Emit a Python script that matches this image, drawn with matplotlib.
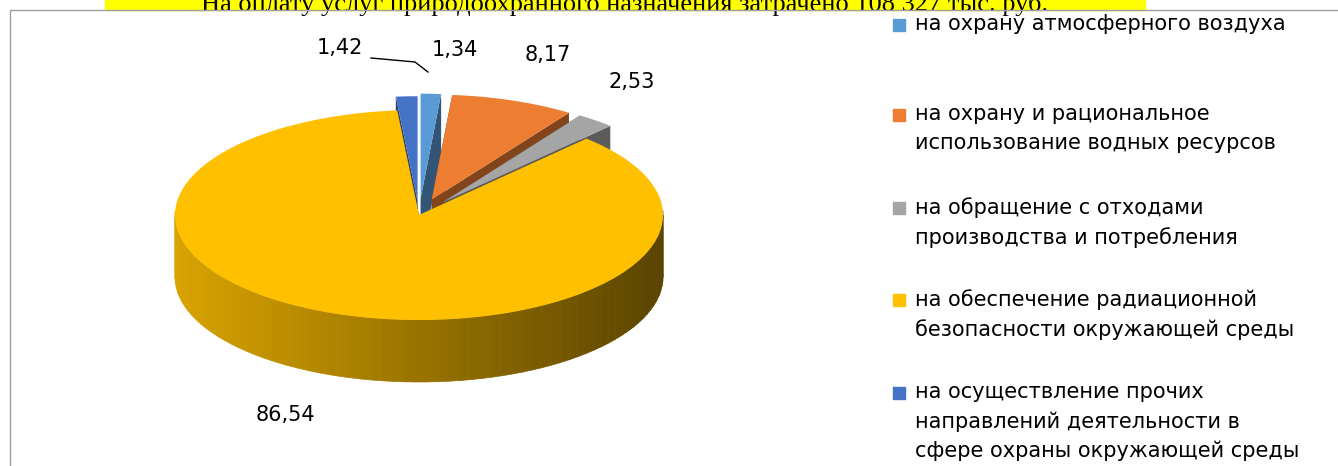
import numpy as np
import matplotlib.pyplot as plt
from matplotlib.patches import Polygon, Rectangle
from matplotlib.colors import to_rgb

values = [1.34, 8.17, 2.53, 86.54, 1.42]
labels = ["1,34", "8,17", "2,53", "86,54", "1,42"]
colors = ["#5B9BD5", "#ED7D31", "#A5A5A5", "#FFC000", "#4472C4"]
explode = [38, 38, 38, 0, 32]
legend_text = [
    "на охрану атмосферного воздуха",
    "на охрану и рациональное\nиспользование водных ресурсов",
    "на обращение с отходами\nпроизводства и потребления",
    "на обеспечение радиационной\nбезопасности окружающей среды",
    "на осуществление прочих\nнаправлений деятельности в\nсфере охраны окружающей среды",
]

plt.rcParams['font.family'] = ['DejaVu Sans']
fig = plt.figure(figsize=(13.38, 4.66), dpi=100)
ax = fig.add_axes([0, 0, 1, 1])
ax.set_xlim(0, 1338)
ax.set_ylim(466, 0)
ax.axis('off')

# title strip cut off at the top
ax.add_patch(Rectangle((105, -10), 1040, 20, color='#FFFF00', zorder=1))
ax.text(625, 4, "На оплату услуг природоохранного назначения затрачено 108 327 тыс. руб.",
        fontsize=19, family='Liberation Serif', ha='center', va='center', zorder=2)
ax.add_patch(Rectangle((10, 10), 1340, 470, fill=False, ec='#A0A0A0', lw=1, zorder=2))

cx, cy, rx, ry, depth = 419, 215, 244, 105, 62


def pt(t, ox, oy, dz=0):
    return cx + ox + rx * np.cos(t), cy + oy - ry * np.sin(t) + dz


def darker(c, f):
    r = np.array(to_rgb(c))
    return tuple(r * f)


tops, sides = [], []
start = 90.0
for v, col, ex in zip(values, colors, explode):
    sweep = v / sum(values) * 360
    t1, t2 = np.radians(start - sweep), np.radians(start)
    mid = (t1 + t2) / 2
    ox, oy = ex * np.cos(mid), -ex * ry / rx * np.sin(mid)
    ts = np.linspace(t1, t2, 200)
    top = [(cx + ox, cy + oy)] + [pt(t, ox, oy) for t in ts]
    tops.append(Polygon(top, closed=True, fc=col, ec='none', zorder=10))
    # radial cut faces
    for t in (t1, t2):
        p = pt(t, ox, oy)
        quad = [(cx + ox, cy + oy), p, (p[0], p[1] + depth), (cx + ox, cy + oy + depth)]
        sides.append(Polygon(quad, fc=darker(col, 0.55), ec='none', zorder=4))
    # outer wall (front half), shaded
    n = 120
    for i in range(n):
        a, b = ts[0] + (ts[-1] - ts[0]) * i / n, ts[0] + (ts[-1] - ts[0]) * (i + 1) / n
        if np.sin((a + b) / 2) > 0.05:
            continue
        shade = 0.85 - 0.5 * (np.cos((a + b) / 2) + 1) / 2
        pa, pb = pt(a, ox, oy), pt(b, ox, oy)
        quad = [pa, pb, (pb[0], pb[1] + depth), (pa[0], pa[1] + depth)]
        sides.append(Polygon(quad, fc=darker(col, shade), ec=darker(col, shade), lw=0.5, zorder=5))
    start -= sweep

for p in sides:
    ax.add_patch(p)
for p in tops:
    ax.add_patch(p)

label_pos = [(455, 50), (548, 55), (632, 82), (285, 415), (340, 48)]
for (x, y), s in zip(label_pos, labels):
    ax.text(x, y, s, fontsize=15, ha='center', va='center', zorder=20)
ax.plot([371, 415, 428], [58, 62, 72], color='black', lw=1, zorder=20)

ys = [25, 115, 208, 300, 393]
for y, col, s in zip(ys, colors, legend_text):
    ax.add_patch(Rectangle((893, y - 6), 12, 12, color=col, zorder=20))
    ax.text(915, y - 11, s, fontsize=15, va='top', ha='left', linespacing=1.55, zorder=20)

fig.savefig("out.png", dpi=100)
